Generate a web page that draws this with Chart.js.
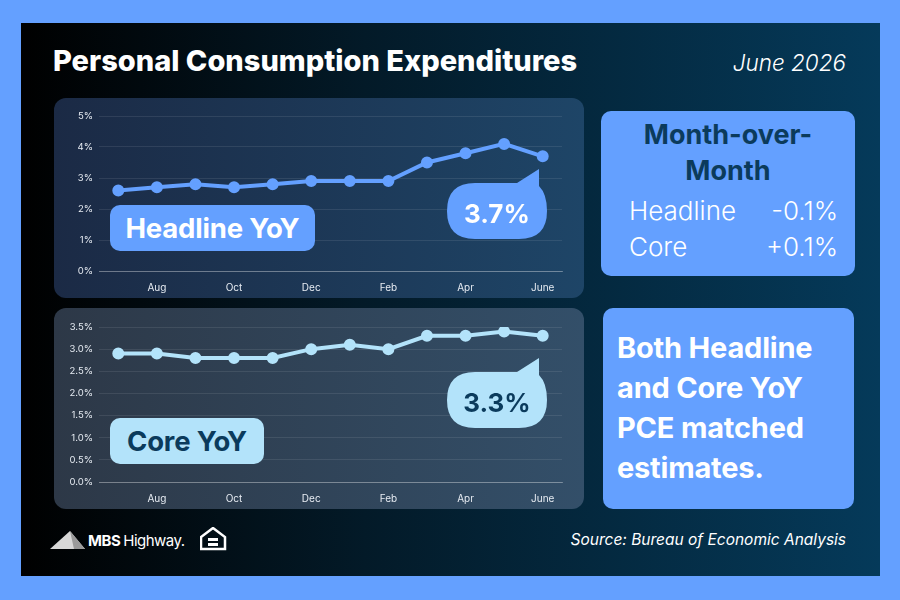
<!DOCTYPE html>
<html lang="en">
<head>
    <meta charset="UTF-8">
    <title>Personal Consumption Expenditures</title>
    <script src="https://cdn.jsdelivr.net/npm/chart.js"></script>
    <style>
        body {
            margin: 0;
            width: 900px;
            height: 600px;
            background: #64a0ff;
            font-family: Inter, "Open Sans", sans-serif;
            position: relative;
            overflow: hidden;
        }
        .frame {
            position: absolute;
            left: 21px; top: 23px;
            width: 859px; height: 553px;
            background: linear-gradient(90deg, #000000 0%, #031a28 40%, #053a5a 100%);
        }
        .abs { position: absolute; }
        .title {
            left: 53px; top: 43px;
            color: #fff;
            font-weight: 800;
            font-size: 29px;
            letter-spacing: 0px;
            white-space: nowrap;
        }
        .date {
            right: 54px; top: 49px;
            color: #fff;
            font-style: italic;
            font-weight: 300;
            font-size: 22.5px;
        }
        .panel {
            left: 54px;
            width: 530px;
            border-radius: 12px;
        }
        #p1 { top: 98px; height: 200px; background: linear-gradient(90deg, #1b2a45, #1e4567); }
        #p2 { top: 308px; height: 201px; background: linear-gradient(90deg, #2d3847, #334f69); }
        .panel canvas { position: absolute; left: 0; top: 0; }
        .tag {
            border-radius: 10px;
            font-weight: 700;
            font-size: 27.5px;
            display: flex; align-items: center; justify-content: center;
            letter-spacing: -0.2px;
        }
        #tag1 { left: 110px; top: 205px; width: 205px; height: 46px; background: #64a0ff; color: #fff; }
        #tag2 { left: 110px; top: 418px; width: 154px; height: 46px; background: #b3e3fa; color: #0b3b5c; }
        .bubble { left: 440px; width: 115px; height: 80px; }
        .bubble span {
            position: absolute; left: 7px; top: 27px; width: 100px; height: 56px;
            display: flex; align-items: center; justify-content: center;
            font-weight: 700; font-size: 26px;
        }
        .box {
            left: 601px; width: 254px;
            background: #64a0ff;
            border-radius: 10px;
        }
        #box1 { top: 111px; height: 165px; }
        #box2 { top: 308px; left: 603px; width: 251px; height: 201px; }
        .mom-head {
            position: absolute; left: 0; width: 100%; top: 6px;
            text-align: center; color: #0b3b5c; font-weight: 700;
            font-size: 27px; line-height: 36px;
        }
        .mom-row {
            position: absolute; left: 28px; right: 17px;
            display: flex; justify-content: space-between;
            color: #fff; font-size: 26px; font-weight: 300;
        }
        .note {
            position: absolute; left: 14px; top: 20px;
            color: #fff; font-weight: 700; font-size: 29px; line-height: 40px;
            letter-spacing: -0.2px;
        }
        .source {
            right: 54px; top: 530px;
            color: #fff; font-style: italic; font-size: 15.5px; font-weight: 400;
        }
        .logo { left: 50px; top: 527px; color: #fff; font-size: 15px; display: flex; align-items: center; }
    </style>
</head>
<body>
    <div class="frame"></div>

    <div class="abs title">Personal Consumption Expenditures</div>
    <div class="abs date">June 2026</div>

    <div class="abs panel" id="p1"><canvas id="headlineChart" width="530" height="200"></canvas></div>
    <div class="abs panel" id="p2"><canvas id="coreChart" width="530" height="201"></canvas></div>

    <div class="abs tag" id="tag1">Headline YoY</div>
    <div class="abs tag" id="tag2">Core YoY</div>

    <div class="abs bubble" style="top:158px;">
        <svg width="115" height="90"><path d="M35 25 H77 L99 11 V28 Q107 36 107 53 Q107 81 79 81 H35 Q7 81 7 53 Q7 25 35 25 Z" fill="#64a0ff"/></svg>
        <span style="color:#fff;">3.7%</span>
    </div>
    <div class="abs bubble" style="top:347px;">
        <svg width="115" height="90"><path d="M35 25 H77 L99 11 V28 Q107 36 107 53 Q107 81 79 81 H35 Q7 81 7 53 Q7 25 35 25 Z" fill="#b3e3fa"/></svg>
        <span style="color:#0b3b5c;">3.3%</span>
    </div>

    <div class="abs box" id="box1">
        <div class="mom-head">Month-over-<br>Month</div>
        <div class="mom-row" style="top:84px;"><span>Headline</span><span>-0.1%</span></div>
        <div class="mom-row" style="top:120px;"><span>Core</span><span>+0.1%</span></div>
    </div>
    <div class="abs box" id="box2">
        <div class="note">Both Headline<br>and Core YoY<br>PCE matched<br>estimates.</div>
    </div>

    <div class="abs logo">
        <svg width="36" height="20"><path d="M0 19 L20 1 L35 19 Z" fill="#d8d8d8"/><path d="M20 1 L35 19 L24 19 Z" fill="#9a9a9a"/></svg>
        <b style="margin-left:2px;letter-spacing:-0.5px;">MBS</b><span style="margin-left:3px;letter-spacing:-0.5px;">Highway.</span>
        <svg width="28" height="26" style="margin-left:15px;"><path d="M13 1 L1 10 V22 H25 V10 Z" fill="none" stroke="#fff" stroke-width="2.5"/><rect x="8" y="11" width="10" height="3" fill="#fff"/><rect x="8" y="16" width="10" height="3" fill="#fff"/></svg>
    </div>
    <div class="abs source">Source: Bureau of Economic Analysis</div>

    <script>
        // Jul 2025 .. June 2026
        const months = ["Jul", "Aug", "Sep", "Oct", "Nov", "Dec", "Jan", "Feb", "Mar", "Apr", "May", "June"];
        const headlineYoY = [2.6, 2.7, 2.8, 2.7, 2.8, 2.9, 2.9, 2.9, 3.5, 3.8, 4.1, 3.7];
        const coreYoY = [2.9, 2.9, 2.8, 2.8, 2.8, 3.0, 3.1, 3.0, 3.3, 3.3, 3.4, 3.3];

        function makeChart(id, data, color, yMax, yStep, decimals, topPad) {
            return new Chart(document.getElementById(id), {
                type: "line",
                data: {
                    labels: months,
                    datasets: [{
                        data,
                        borderColor: color,
                        backgroundColor: color,
                        borderWidth: 4,
                        pointRadius: 4,
                        pointHoverRadius: 4,
                        tension: 0
                    }]
                },
                options: {
                    responsive: false,
                    animation: false,
                    plugins: { legend: { display: false }, tooltip: { enabled: false } },
                    layout: { padding: { left: 0, right: 22, top: topPad, bottom: 0 } },
                    scales: {
                        x: {
                            offset: true,
                            grid: { display: false },
                            border: { color: "rgba(255,255,255,0.3)" },
                            ticks: {
                                color: "#e6ebf2",
                                font: { family: "Inter", size: 10 },
                                padding: 3,
                                autoSkip: false,
                                maxRotation: 0,
                                callback: (v, i) => (i % 2 === 1 ? months[i] : "")
                            },
                            afterFit: s => { s.height = 27; }
                        },
                        y: {
                            min: 0,
                            max: yMax,
                            grid: { color: "rgba(255,255,255,0.09)", drawTicks: false },
                            border: { display: false },
                            ticks: {
                                stepSize: yStep,
                                color: "#e6ebf2",
                                font: { family: "Inter", size: 9.5 },
                                padding: 6,
                                callback: v => v.toFixed(decimals) + "%"
                            },
                            afterFit: s => { s.width = 45; }
                        }
                    }
                }
            });
        }

        makeChart("headlineChart", headlineYoY, "#64a0ff", 5, 1, 0, 18);
        makeChart("coreChart", coreYoY, "#b3e3fa", 3.5, 0.5, 1, 19);
    </script>
</body>
</html>
